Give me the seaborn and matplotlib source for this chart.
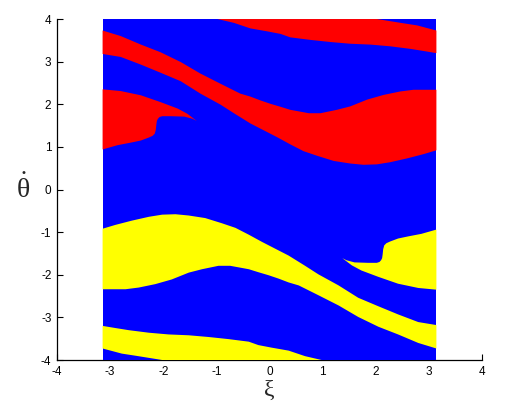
"""Basins of attraction in the (xi, theta_dot) plane."""

import numpy as np
import matplotlib.pyplot as plt
import seaborn as sns

# domain of the computed grid
xi_lim = [-np.pi, np.pi]
theta_lim = [-4, 4]

# red basin boundaries; the yellow basin is the same set mirrored through the origin
band_top_xi = [-np.pi, -2.80, -2.42, -2.05, -1.67, -1.30, -0.92, -0.55, -0.36, -0.17, 0.02, 0.21,
               0.39, 0.74, 0.96, 1.27, 1.52, 1.84, 2.15, 2.46, 2.71, np.pi]
band_top_th = [3.73, 3.60, 3.40, 3.22, 2.99, 2.72, 2.48, 2.25, 2.18, 2.09, 2.01, 1.94,
               1.87, 1.79, 1.79, 1.87, 1.95, 2.11, 2.22, 2.30, 2.34, 2.34]
band_bot_xi = [-np.pi, -2.80, -2.42, -2.05, -1.67, -1.30, -0.92, -0.67, -0.36, -0.11, 0.14, 0.39,
               0.64, 0.90, 1.21, 1.52, 1.77, 2.02, 2.27, 2.59, 2.90, np.pi]
band_bot_th = [3.18, 3.11, 2.93, 2.74, 2.54, 2.25, 1.99, 1.79, 1.55, 1.39, 1.23, 1.06,
               0.90, 0.79, 0.67, 0.61, 0.58, 0.59, 0.64, 0.73, 0.83, 0.92]

cap_xi = [-0.98, 2.02, 2.27, 2.52, 2.78, 2.96, np.pi, np.pi, 2.90, 2.65, 2.27, 1.90,
          1.52, 1.15, 0.77, 0.39, 0.21, -0.04, -0.36, -0.67]
cap_th = [4.0, 4.0, 3.95, 3.90, 3.85, 3.79, 3.73, 3.20, 3.25, 3.30, 3.36, 3.40,
          3.42, 3.46, 3.51, 3.57, 3.65, 3.71, 3.78, 3.91]

lobe_xi = [-np.pi, -2.80, -2.42, -2.05, -1.73, -1.55, -1.37, -1.45, -1.60, -1.85, -2.02, -2.07,
           -2.10, -2.12, -2.13, -2.14, -2.16, -2.20, -2.27, -2.42, -2.61, -2.86, -np.pi]
lobe_th = [2.35, 2.31, 2.21, 2.05, 1.90, 1.78, 1.61, 1.66, 1.71, 1.72, 1.72, 1.70,
           1.66, 1.61, 1.52, 1.40, 1.31, 1.26, 1.22, 1.15, 1.10, 1.04, 0.94]

ticks = [-4, -3, -2, -1, 0, 1, 2, 3, 4]

sns.set_style('ticks')
plt.rcParams['font.family'] = ['Liberation Sans', 'DejaVu Sans']
plt.rcParams['axes.unicode_minus'] = False
plt.rcParams['mathtext.fontset'] = 'custom'
plt.rcParams['mathtext.rm'] = 'Liberation Serif'
plt.rcParams['mathtext.it'] = 'Liberation Serif'

fig = plt.figure(figsize=(5.07, 4.09), dpi=100)
ax = fig.add_axes([0.1124, 0.1198, 0.8383, 0.8337])

# blue background basin
ax.fill([xi_lim[0], xi_lim[1], xi_lim[1], xi_lim[0]],
        [theta_lim[0], theta_lim[0], theta_lim[1], theta_lim[1]],
        color='#0000ff', lw=0, zorder=3)

band_xi = band_top_xi + band_bot_xi[::-1]
band_th = band_top_th + band_bot_th[::-1]
for px, py in [(band_xi, band_th), (cap_xi, cap_th), (lobe_xi, lobe_th)]:
    ax.fill(px, py, color='#ff0000', lw=0, zorder=3)
    ax.fill(-np.array(px), -np.array(py), color='#ffff00', lw=0, zorder=3)

ax.set_xlim(-4, 4)
ax.set_ylim(-4, 4)
ax.set_xticks(ticks)
ax.set_yticks(ticks)
ax.tick_params(direction='in', length=4, width=0.8, labelsize=8.5, pad=4, colors='black')
sns.despine(ax=ax)
for s in ['left', 'bottom']:
    ax.spines[s].set_color('black')
    ax.spines[s].set_linewidth(0.9)

ax.set_xlabel('ξ', fontsize=17, family=['Liberation Serif'], va='center')
ax.xaxis.set_label_coords(0.5, -0.09)
ax.set_ylabel(r'$\dot{\theta}$', fontsize=20, rotation=0, va='center', ha='center')
ax.yaxis.set_label_coords(-0.08, 0.5)

plt.savefig('out.png', dpi=100)
